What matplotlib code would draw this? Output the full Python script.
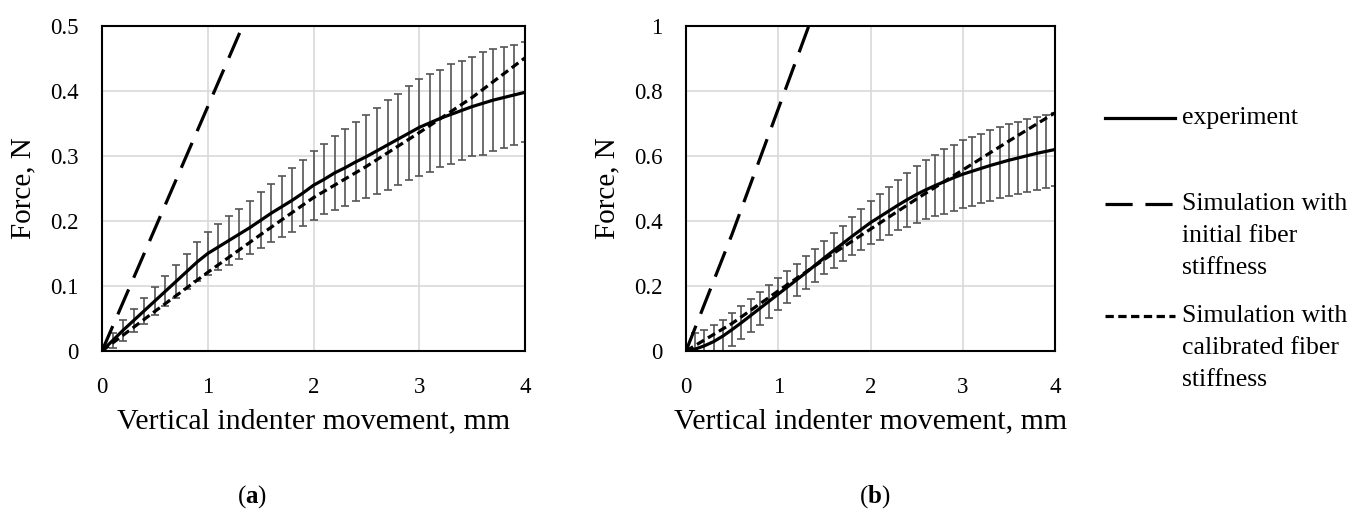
import numpy as np
import matplotlib.pyplot as plt
from matplotlib.lines import Line2D

plt.rcParams["font.family"] = ["Liberation Serif", "DejaVu Serif"]
plt.rcParams["mathtext.fontset"] = "custom"
plt.rcParams["mathtext.rm"] = "Liberation Serif"
plt.rcParams["mathtext.bf"] = "Liberation Serif:bold"

# Indentation steps of the measurement, mm
disp_exp = [0.0, 0.1, 0.2, 0.3, 0.4, 0.5, 0.6, 0.7, 0.8, 0.9,
            1.0, 1.1, 1.2, 1.3, 1.4, 1.5, 1.6, 1.7, 1.8, 1.9,
            2.0, 2.1, 2.2, 2.3, 2.4, 2.5, 2.6, 2.7, 2.8, 2.9,
            3.0, 3.1, 3.2, 3.3, 3.4, 3.5, 3.6, 3.7, 3.8, 3.9, 4.0]

# (a) measured force, N (mean and spread)
force_a_mean = [0.000, 0.016, 0.032, 0.047, 0.062, 0.077, 0.092, 0.107, 0.122, 0.137,
                0.150, 0.160, 0.170, 0.180, 0.190, 0.201, 0.212, 0.222, 0.232, 0.243,
                0.255, 0.264, 0.274, 0.282, 0.291, 0.299, 0.308, 0.317, 0.326, 0.335,
                0.344, 0.351, 0.358, 0.364, 0.370, 0.376, 0.381, 0.386, 0.390, 0.394, 0.398]
force_a_err = [0.000, 0.012, 0.016, 0.018, 0.020, 0.021, 0.023, 0.025, 0.027, 0.030,
               0.033, 0.035, 0.037, 0.039, 0.041, 0.043, 0.045, 0.047, 0.049, 0.051,
               0.053, 0.054, 0.057, 0.059, 0.061, 0.064, 0.066, 0.069, 0.070, 0.072,
               0.074, 0.075, 0.075, 0.077, 0.076, 0.076, 0.079, 0.078, 0.078, 0.077, 0.077]

# (b) measured force, N (mean and spread)
force_b_mean = [0.000, 0.006, 0.016, 0.029, 0.046, 0.066, 0.087, 0.109, 0.131, 0.153,
                0.175, 0.197, 0.219, 0.241, 0.264, 0.287, 0.309, 0.331, 0.353, 0.374,
                0.395, 0.413, 0.431, 0.449, 0.466, 0.482, 0.496, 0.509, 0.521, 0.533,
                0.544, 0.553, 0.562, 0.571, 0.579, 0.587, 0.594, 0.601, 0.608, 0.614, 0.620]
force_b_err = [0.000, 0.050, 0.050, 0.050, 0.050, 0.050, 0.050, 0.050, 0.050, 0.050,
               0.050, 0.050, 0.050, 0.050, 0.051, 0.051, 0.053, 0.055, 0.058, 0.062,
               0.066, 0.070, 0.074, 0.078, 0.083, 0.087, 0.091, 0.095, 0.099, 0.102,
               0.105, 0.106, 0.107, 0.108, 0.109, 0.110, 0.111, 0.112, 0.112, 0.113, 0.113]

# FE simulation results
disp_sim = [0.0, 0.5, 1.0, 1.5, 2.0, 2.5, 3.0, 3.5, 4.0]
force_a_calib = [0.0, 0.061, 0.121, 0.179, 0.236, 0.284, 0.336, 0.390, 0.451]
force_b_calib = [0.0, 0.085, 0.185, 0.282, 0.375, 0.468, 0.557, 0.646, 0.733]

disp_init = [0.0, 0.5, 1.0, 1.5]
force_a_init = [0.0, 0.188, 0.376, 0.564]
force_b_init = [0.0, 0.360, 0.745, 1.130]

x_ticks = [0, 1, 2, 3, 4]
y_ticks_a = [0, 0.1, 0.2, 0.3, 0.4, 0.5]
y_labels_a = ["0", "0.1", "0.2", "0.3", "0.4", "0.5"]
y_ticks_b = [0, 0.2, 0.4, 0.6, 0.8, 1.0]
y_labels_b = ["0", "0.2", "0.4", "0.6", "0.8", "1"]

labels = ["experiment", "Simulation with\ninitial fiber\nstiffness",
          "Simulation with\ncalibrated fiber\nstiffness"]

exp_style = dict(color="black", lw=2.3, ls="-")
init_style = dict(color="black", lw=2.3, ls=(0, (8.5, 4)))
calib_style = dict(color="black", lw=2.3, ls=(0, (2.6, 1.4)))

W, H = 1367, 511
fig = plt.figure(figsize=(W / 100, H / 100), dpi=100)
ax_a = fig.add_axes([102 / W, 160 / H, 423 / W, 325 / H])
ax_b = fig.add_axes([686 / W, 160 / H, 369 / W, 325 / H])


def draw_panel(ax, mean, err, calib, init, yticks, ylabels, ylabel_x):
    ax.errorbar(disp_exp, mean, yerr=err, fmt="none", ecolor="#555555",
                elinewidth=1.2, capsize=3.2, capthick=1.2, zorder=2)
    ax.plot(disp_exp, mean, zorder=3, **exp_style)
    ax.plot(disp_sim, calib, zorder=4, **calib_style)
    ax.plot(disp_init, init, zorder=4, **init_style)

    ax.set_xlim(0, 4)
    ax.set_ylim(yticks[0], yticks[-1])
    ax.set_xticks(x_ticks)
    ax.set_xticklabels([str(t) for t in x_ticks])
    ax.set_yticks(yticks)
    ax.set_yticklabels(ylabels)
    ax.grid(True, color="#d9d9d9", lw=1.2)
    ax.set_axisbelow(True)
    ax.tick_params(axis="both", length=0, labelsize=16.5)
    ax.tick_params(axis="y", pad=17)
    ax.tick_params(axis="x", pad=19)
    for sp in ax.spines.values():
        sp.set_linewidth(1.5)
        sp.set_color("black")

    ax.set_xlabel("Vertical indenter movement, mm", fontsize=21.5, va="center")
    ax.xaxis.set_label_coords(0.5, -0.218)
    ax.set_ylabel("Force, N", fontsize=21, va="center")
    ax.yaxis.set_label_coords(ylabel_x, 0.5)


draw_panel(ax_a, force_a_mean, force_a_err, force_a_calib, force_a_init,
           y_ticks_a, y_labels_a, -0.187)
draw_panel(ax_b, force_b_mean, force_b_err, force_b_calib, force_b_init,
           y_ticks_b, y_labels_b, -0.214)

# legend drawn by hand so the key sits on the first text line
key_rows = [118, 204, 316]
for style, label, row in zip([exp_style, init_style, calib_style], labels, key_rows):
    y = 1 - row / H
    fig.add_artist(Line2D([1105 / W, 1175 / W], [y, y], transform=fig.transFigure, **style))
    fig.text(1182 / W, 1 - (row - 11) / H, label, fontsize=18.5, va="top",
             ha="left", linespacing=1.6)

fig.text(252 / W, 1 - 497 / H, r"($\mathbf{a}$)", fontsize=18, ha="center", va="center")
fig.text(875 / W, 1 - 497 / H, r"($\mathbf{b}$)", fontsize=18, ha="center", va="center")

fig.savefig("out.png", dpi=100)
